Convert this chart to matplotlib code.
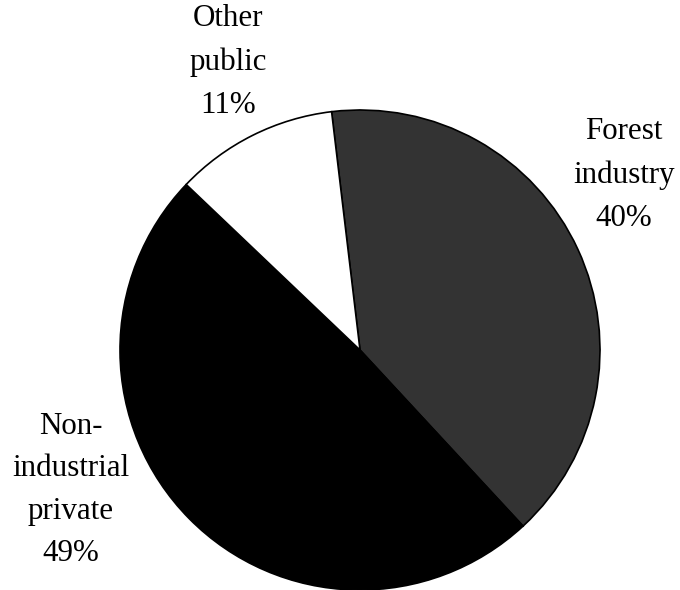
import matplotlib.pyplot as plt

labels = ["Forest\nindustry\n40%", "Non-\nindustrial\nprivate\n49%", "Other\npublic\n11%"]
shares = [40, 49, 11]
colors = ["#333333", "#000000", "#ffffff"]

# label block centres in pixels (x, y from top)
label_pos = [(624, 175), (71, 490), (228, 62)]

W, H = 680, 590
fig = plt.figure(figsize=(W / 100, H / 100), dpi=100)

# pie centre (360, 350), radius 240 px
cx, cy, r = 360, 350, 240
ax = fig.add_axes([(cx - r) / W, (H - cy - r) / H, 2 * r / W, 2 * r / H])
ax.pie(shares, colors=colors, startangle=96.8, counterclock=False,
       wedgeprops=dict(edgecolor="black", linewidth=1.2))
ax.set_xlim(-1, 1)
ax.set_ylim(-1, 1)
ax.set_aspect("equal")
ax.axis("off")

for lab, (px, py) in zip(labels, label_pos):
    fig.text(px / W, 1 - py / H, lab, ha="center", va="center",
             multialignment="center", fontsize=22.3,
             family="Liberation Serif", linespacing=1.62)

fig.savefig("out.png", dpi=100, facecolor="white")
